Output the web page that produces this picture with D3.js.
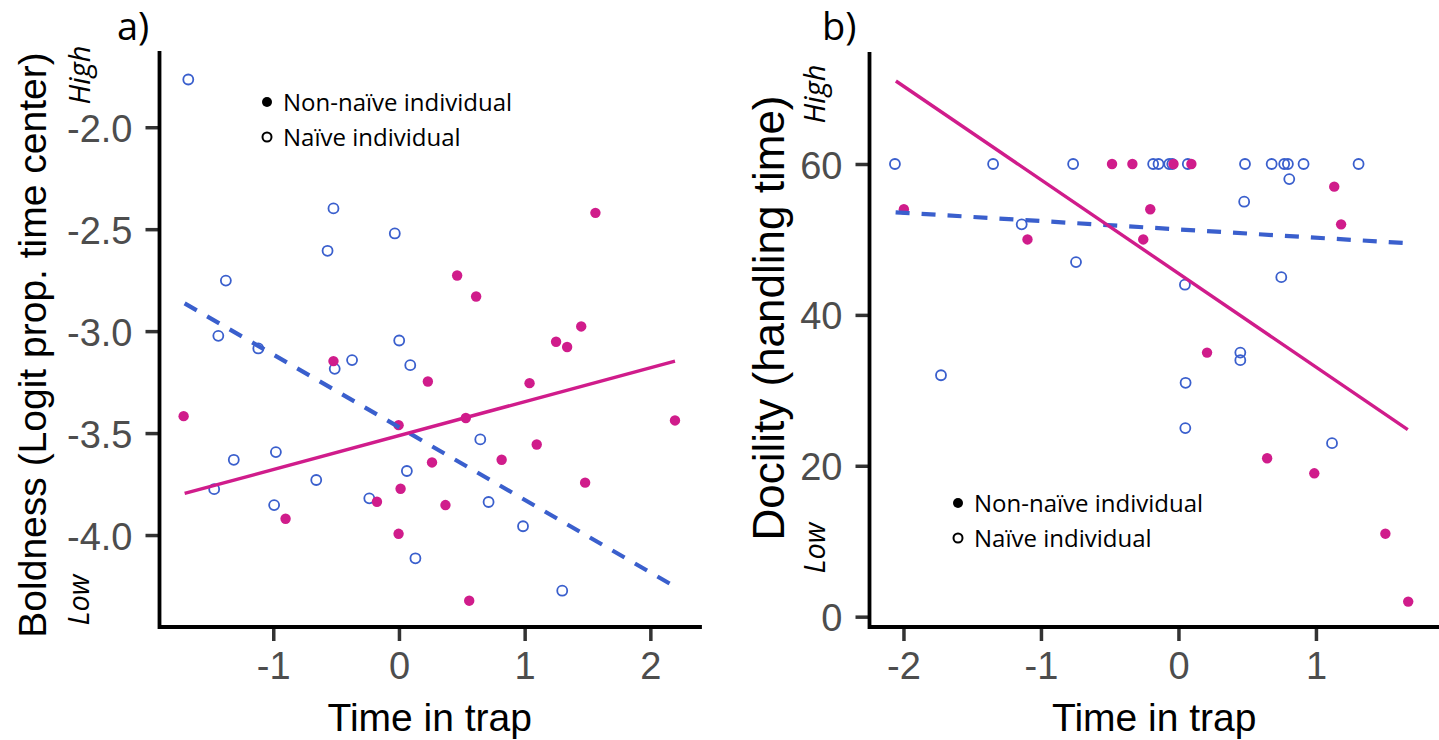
<!DOCTYPE html>
<html>
<head>
<meta charset="utf-8">
<script src="https://cdn.jsdelivr.net/npm/d3@7"></script>
<style>
    body { margin: 0; background: #fff; }
    svg text { font-family: "Liberation Sans", Arial, sans-serif; }
</style>
</head>
<body>
<div id="chart"></div>
<script>
const pink = "#d01c8b";
const blue = "#3a5fcd";
const tickGrey = "#333333";
const labelGrey = "#4d4d4d";

// a) boldness ~ time in trap
const boldNaive = [
    [-1.676, -1.766], [-0.521, -2.398], [-0.033, -2.521], [-0.568, -2.606], [-1.377, -2.752],
    [-1.437, -3.023], [0.002, -3.046], [-1.119, -3.085], [-0.373, -3.142], [-0.511, -3.185],
    [0.090, -3.167], [0.647, -3.531], [-1.314, -3.631], [-0.979, -3.593], [-1.470, -3.775],
    [-0.658, -3.730], [0.063, -3.686], [-0.236, -3.820], [-0.993, -3.853], [0.713, -3.838],
    [0.987, -3.957], [0.131, -4.114], [1.299, -4.273]
];
const boldNonNaive = [
    [1.563, -2.420], [0.463, -2.727], [0.614, -2.830], [1.450, -2.977], [1.250, -3.052],
    [1.338, -3.078], [-0.521, -3.147], [0.230, -3.247], [1.039, -3.255], [-1.713, -3.417],
    [0.532, -3.426], [2.196, -3.438], [-0.003, -3.461], [1.096, -3.556], [0.263, -3.644],
    [0.817, -3.631], [1.481, -3.743], [0.013, -3.773], [-0.175, -3.837], [0.370, -3.853],
    [-0.902, -3.920], [-0.003, -3.994], [0.559, -4.322]
];
const boldFitNaive = [[-1.705, -2.864], [2.196, -4.253]];
const boldFitNonNaive = [[-1.705, -3.796], [2.196, -3.147]];
const boldTicksX = [-1, 0, 1, 2];
const boldTicksY = [-2.0, -2.5, -3.0, -3.5, -4.0];

// b) docility ~ time in trap
const docNaive = [
    [-2.062, 60], [-1.348, 60], [-0.766, 60], [-0.184, 60], [-0.145, 60], [-0.067, 60],
    [-0.045, 60], [0.068, 60], [0.484, 60], [0.678, 60], [0.769, 60], [0.796, 60],
    [0.910, 60], [1.310, 60], [0.806, 58], [0.478, 55], [-1.140, 52], [-0.745, 47],
    [0.748, 45], [0.047, 44], [0.450, 35], [0.450, 34], [-1.727, 32], [0.052, 31],
    [0.050, 25], [1.117, 23]
];
const docNonNaive = [
    [-1.997, 54], [-0.483, 60], [-0.335, 60], [-0.036, 60], [0.094, 60], [-0.205, 54],
    [1.133, 57], [1.183, 52], [-1.098, 50], [-0.256, 50], [0.208, 35], [0.645, 21],
    [0.988, 19], [1.505, 11], [1.671, 2]
];
const docFitNaive = [[-2.057, 53.6], [1.665, 49.5]];
const docFitNonNaive = [[-2.055, 71.0], [1.668, 24.8]];
const docTicksX = [-2, -1, 0, 1];
const docTicksY = [0, 20, 40, 60];

const legendLabels = ["Non-naïve individual", "Naïve individual"];

const svg = d3.select("#chart")
    .append("svg")
    .attr("width", 1439)
    .attr("height", 740);

const drawPanel = (p) => {
    const x = d3.scaleLinear().domain(p.xDomain).range([p.left, p.right]);
    const y = d3.scaleLinear().domain(p.yDomain).range([p.bottom, p.top]);
    const g = svg.append("g");

    // ticks + labels
    const xAxis = g.append("g")
        .attr("transform", "translate(0," + p.bottom + ")")
        .call(d3.axisBottom(x).tickValues(p.xTicks).tickSize(14).tickPadding(11)
            .tickFormat(d => String(d)));
    const yAxis = g.append("g")
        .attr("transform", "translate(" + p.left + ",0)")
        .call(d3.axisLeft(y).tickValues(p.yTicks).tickSize(14).tickPadding(13)
            .tickFormat(p.yFormat));
    [xAxis, yAxis].forEach(a => {
        a.select(".domain").remove();
        a.selectAll(".tick line")
            .attr("stroke", tickGrey)
            .attr("stroke-width", 3.5);
        a.selectAll(".tick text")
            .attr("fill", labelGrey)
            .style("font-size", "38px")
            .style("font-family", "'Liberation Sans', Arial, sans-serif");
    });
    yAxis.selectAll(".tick text").attr("dy", "0.37em");

    // axis lines
    g.append("path")
        .attr("d", d3.line()([[p.left, p.top], [p.left, p.bottom], [p.right, p.bottom]]))
        .attr("fill", "none")
        .attr("stroke", "#000")
        .attr("stroke-width", 3.8)
        .attr("stroke-linecap", "square");

    // points: naive (open) then non-naive (filled)
    g.append("g")
        .selectAll("circle")
        .data(p.naive)
        .enter()
        .append("circle")
        .attr("cx", d => x(d[0]))
        .attr("cy", d => y(d[1]))
        .attr("r", 5)
        .attr("fill", "none")
        .attr("stroke", blue)
        .attr("stroke-width", 1.8);
    g.append("g")
        .selectAll("circle")
        .data(p.nonNaive)
        .enter()
        .append("circle")
        .attr("cx", d => x(d[0]))
        .attr("cy", d => y(d[1]))
        .attr("r", 5.2)
        .attr("fill", pink);

    // fitted lines
    const line = d3.line().x(d => x(d[0])).y(d => y(d[1]));
    g.append("path")
        .attr("d", line(p.fitNaive))
        .attr("fill", "none")
        .attr("stroke", blue)
        .attr("stroke-width", 4.2)
        .attr("stroke-dasharray", "14,12");
    g.append("path")
        .attr("d", line(p.fitNonNaive))
        .attr("fill", "none")
        .attr("stroke", pink)
        .attr("stroke-width", 3.4);

    // axis titles
    g.append("text")
        .attr("x", (p.left + p.right) / 2)
        .attr("y", 731)
        .attr("text-anchor", "middle")
        .style("font-size", "39px")
        .text("Time in trap");
    g.append("text")
        .attr("transform", "translate(" + p.yTitle[0] + "," + p.yTitle[1] + ") rotate(-90)")
        .attr("text-anchor", "middle")
        .style("font-size", p.yTitleSize + "px")
        .text(p.yLabel);

    // High / Low hints
    [["High", p.high], ["Low", p.low]].forEach(([t, pos]) => {
        g.append("text")
            .attr("transform", "translate(" + pos[0] + "," + pos[1] + ") rotate(-90)")
            .attr("text-anchor", "middle")
            .attr("dy", "0.35em")
            .style("font-family", "'Open Sans', sans-serif")
            .style("font-style", "italic")
            .style("font-size", "29px")
            .text(t);
    });

    // panel letter
    g.append("text")
        .attr("x", p.letter[0])
        .attr("y", p.letter[1])
        .style("font-family", "'Open Sans', sans-serif")
        .style("font-size", "38px")
        .text(p.letterText);

    // legend
    const leg = g.append("g")
        .attr("transform", "translate(" + p.legend[0] + "," + p.legend[1] + ")");
    leg.selectAll("circle")
        .data(legendLabels)
        .enter()
        .append("circle")
        .attr("cx", 0)
        .attr("cy", (d, i) => i * 35)
        .attr("r", (d, i) => i == 0 ? 5 : 4.5)
        .attr("fill", (d, i) => i == 0 ? "#000" : "none")
        .attr("stroke", "#000")
        .attr("stroke-width", (d, i) => i == 0 ? 0 : 2);
    leg.selectAll("text")
        .data(legendLabels)
        .enter()
        .append("text")
        .attr("x", 16)
        .attr("y", (d, i) => i * 35 + 8.5)
        .style("font-family", "'Open Sans', sans-serif")
        .style("font-size", "24px")
        .text(d => d);
};

drawPanel({
    left: 159.5, right: 700, top: 53, bottom: 627,
    xDomain: [-1.905, 2.395], yDomain: [-4.451, -1.636],
    xTicks: boldTicksX, yTicks: boldTicksY, yFormat: d => d.toFixed(1),
    naive: boldNaive, nonNaive: boldNonNaive,
    fitNaive: boldFitNaive, fitNonNaive: boldFitNonNaive,
    yLabel: "Boldness (Logit prop. time center)", yTitle: [46, 345], yTitleSize: 39,
    high: [80, 75], low: [79, 600],
    letter: [117, 40], letterText: "a)",
    legend: [267, 102]
});

drawPanel({
    left: 869.5, right: 1439, top: 54, bottom: 627,
    xDomain: [-2.247, 1.895], yDomain: [-1.37, 74.58],
    xTicks: docTicksX, yTicks: docTicksY, yFormat: d => String(d),
    naive: docNaive, nonNaive: docNonNaive,
    fitNaive: docFitNaive, fitNonNaive: docFitNonNaive,
    yLabel: "Docility (handling time)", yTitle: [784, 318], yTitleSize: 44,
    high: [815, 94], low: [815, 548],
    letter: [822, 40], letterText: "b)",
    legend: [958, 503]
});
</script>
</body>
</html>
